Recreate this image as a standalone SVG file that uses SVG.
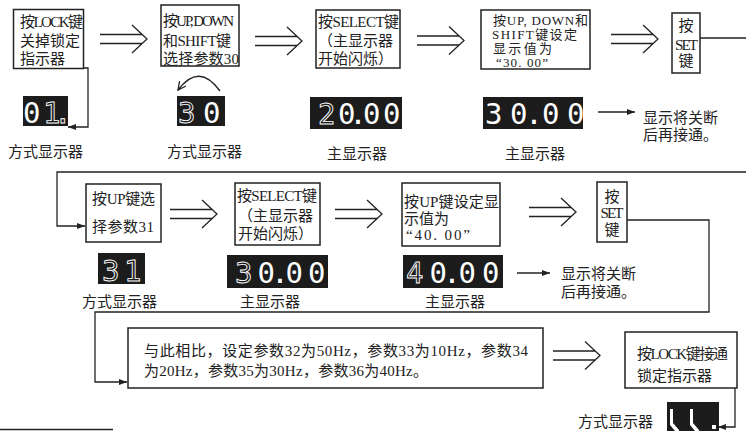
<svg xmlns="http://www.w3.org/2000/svg" width="746" height="431" viewBox="0 0 746 431">
<style>
.bx{fill:#fff;stroke:#222;stroke-width:1.5}
.t{font-family:'Liberation Serif','Noto Sans CJK SC',serif;font-size:15px;fill:#222}
.t13{font-size:13px}
.ln{fill:none;stroke:#222;stroke-width:1.3}
.dbl{fill:none;stroke:#222;stroke-width:1.3}
.disp{fill:#1c1c1c}
.dg{font-family:'DejaVu Sans Mono',monospace;font-size:29px;fill:#fff}
.ol{fill:none;stroke:#fff;stroke-width:0.9}
</style>
<defs>
<marker id="ah" viewBox="0 0 8 6" refX="8" refY="3" markerWidth="8" markerHeight="6" markerUnits="userSpaceOnUse" orient="auto"><path d="M0,0 L8,3 L0,6 z" fill="#222"/></marker>
<marker id="oh" viewBox="0 0 10 10" refX="9" refY="5" markerWidth="10" markerHeight="10" markerUnits="userSpaceOnUse" orient="auto"><path d="M1,1 L9,5 L1,9" fill="none" stroke="#222" stroke-width="1.3"/></marker>
<path id="dbl" class="dbl" d="M0,-4.5 H42 M0,4.5 H42 M32,-14 L47,0 L32,14"/>
</defs>

<g id="connectors">
<use href="#dbl" transform="translate(100,39)"/>
<use href="#dbl" transform="translate(255,41)"/>
<use href="#dbl" transform="translate(417,40.5)"/>
<use href="#dbl" transform="translate(611,39)"/>
<use href="#dbl" transform="translate(170,214)"/>
<use href="#dbl" transform="translate(335,214)"/>
<use href="#dbl" transform="translate(529,212)"/>
<use href="#dbl" transform="translate(553,355.5)"/>
<path class="ln" d="M83,68 H88 V127 H68" marker-end="url(#ah)"/>
<path class="ln" d="M700,38 H760 V172 H57 V226 H85" marker-end="url(#ah)"/>
<path class="ln" d="M627,220 H709 V312 H95 V382 H127" marker-end="url(#ah)"/>
<path class="ln" d="M735,388 V427 H718" marker-end="url(#ah)"/>
<path class="ln" d="M598,112 H635" marker-end="url(#ah)"/>
<path class="ln" d="M517,273 H550" marker-end="url(#ah)"/>
<path class="ln" d="M220,91 Q199,62 178,90" marker-end="url(#oh)"/>
<line class="ln" x1="0" y1="429.5" x2="113" y2="429.5"/>
</g>

<g id="n1">
<rect class="bx" x="13.5" y="9.5" width="70" height="59"/>
<text class="t" x="20" y="26.5" textLength="63">按LOCK键</text>
<text class="t" x="20" y="45.5">关掉锁定</text>
<text class="t" x="20" y="63.5">指示器</text>
</g>
<g id="n2">
<rect class="bx" x="161" y="5" width="78" height="61"/>
<text class="t" x="163" y="25.5" textLength="71">按UP, DOWN</text>
<text class="t" x="163" y="45.5" textLength="68">和SHIFT键</text>
<text class="t" x="163" y="63.5" textLength="76">选择参数30</text>
</g>
<g id="n3">
<rect class="bx" x="316" y="10" width="84" height="58"/>
<text class="t" x="318" y="26.5" textLength="81">按SELECT键</text>
<text class="t" x="318" y="45.5">（主显示器</text>
<text class="t" x="318" y="63.5">开始闪烁）</text>
</g>
<g id="n4">
<rect class="bx" x="481" y="10" width="109" height="59"/>
<text class="t t13" x="493" y="24.5" textLength="95">按UP, DOWN和</text>
<text class="t t13" x="492" y="38.5" textLength="85">SHIFT键设定</text>
<text class="t t13" x="493" y="52.5" textLength="59">显示值为</text>
<text class="t t13" x="496" y="66.5" textLength="52">“30. 00”</text>
</g>
<g id="n5">
<rect class="bx" x="672" y="13" width="28" height="60"/>
<text class="t" x="686" y="30.5" text-anchor="middle">按</text>
<text class="t" x="686.5" y="50" text-anchor="middle" textLength="23">SET</text>
<text class="t" x="686" y="65.5" text-anchor="middle">键</text>
</g>
<g id="n6">
<rect class="bx" x="86" y="184" width="75" height="58"/>
<text class="t" x="92" y="203.5" textLength="63">按UP键选</text>
<text class="t" x="92" y="231.5" textLength="62">择参数31</text>
</g>
<g id="n7">
<rect class="bx" x="235" y="183" width="85" height="62"/>
<text class="t" x="237" y="200.5" textLength="80">按SELECT键</text>
<text class="t" x="238" y="220.5">（主显示器</text>
<text class="t" x="238" y="238.5">开始闪烁）</text>
</g>
<g id="n8">
<rect class="bx" x="402" y="183" width="98" height="63"/>
<text class="t" x="404" y="206.5" textLength="95">按UP键设定显</text>
<text class="t" x="404" y="223.5">示值为</text>
<text class="t" x="406" y="240" textLength="64">“40. 00”</text>
</g>
<g id="n9">
<rect class="bx" x="597" y="182" width="30" height="60"/>
<text class="t" x="612" y="201.5" text-anchor="middle">按</text>
<text class="t" x="612" y="218" text-anchor="middle" textLength="23">SET</text>
<text class="t" x="612" y="234.5" text-anchor="middle">键</text>
</g>
<g id="n10">
<rect class="bx" x="128" y="328" width="415" height="60"/>
<text class="t" x="144" y="355.5" textLength="384">与此相比，设定参数32为50Hz，参数33为10Hz，参数34</text>
<text class="t" x="144" y="375.5" textLength="284">为20Hz，参数35为30Hz，参数36为40Hz。</text>
</g>
<g id="n11">
<rect class="bx" x="625" y="332" width="112" height="56"/>
<text class="t" x="637" y="358.5" textLength="91">按LOCK键接通</text>
<text class="t" x="637" y="380.5">锁定指示器</text>
</g>

<g id="displays">
<rect class="disp" x="23" y="96" width="45" height="30"/>
<text class="dg" x="23 43 54" y="123">0<tspan class="ol">1.</tspan></text>
<rect class="disp" x="177" y="96" width="48" height="30"/>
<text class="dg" x="178 203" y="123"><tspan class="ol">3</tspan>0</text>
<rect class="disp" x="310" y="97" width="92" height="32"/>
<text class="dg" x="318 338 349.3 363 383" y="123.5"><tspan class="ol">2</tspan>0.00</text>
<rect class="disp" x="483" y="97" width="100" height="32"/>
<text class="dg" x="485 510 525.3 542 567" y="123.5">30.00</text>
<rect class="disp" x="98" y="253" width="47" height="31"/>
<text class="dg" x="102 124" y="281"><tspan class="ol">31</tspan></text>
<rect class="disp" x="227" y="255" width="101" height="33"/>
<text class="dg" x="235 257.5 271.3 285.5 308" y="283"><tspan class="ol">3</tspan>0.00</text>
<rect class="disp" x="403" y="255" width="100" height="33"/>
<text class="dg" x="406 429.4 443.3 458.6 482" y="283"><tspan class="ol">4</tspan>0.00</text>
<rect class="disp" x="667" y="402" width="52" height="29"/>
<path d="M670,409 h3 v14 l6,7 v1 h-4 l-5,-6 z M690,409 h3 v14 l6,7 v1 h-4 l-5,-6 z" fill="#fff"/>
<rect x="712" y="425" width="4" height="4" fill="#fff"/>
</g>

<g id="labels">
<text class="t" x="8" y="157">方式显示器</text>
<text class="t" x="167" y="157">方式显示器</text>
<text class="t" x="327" y="158.5">主显示器</text>
<text class="t" x="505" y="158.5">主显示器</text>
<text class="t" x="643" y="123">显示将关断</text>
<text class="t" x="643" y="140">后再接通。</text>
<text class="t" x="82" y="306.5">方式显示器</text>
<text class="t" x="240" y="306.5">主显示器</text>
<text class="t" x="425" y="306.5">主显示器</text>
<text class="t" x="561" y="278.5">显示将关断</text>
<text class="t" x="561" y="296.5">后再接通。</text>
<text class="t" x="578" y="426.5">方式显示器</text>
</g>
</svg>
